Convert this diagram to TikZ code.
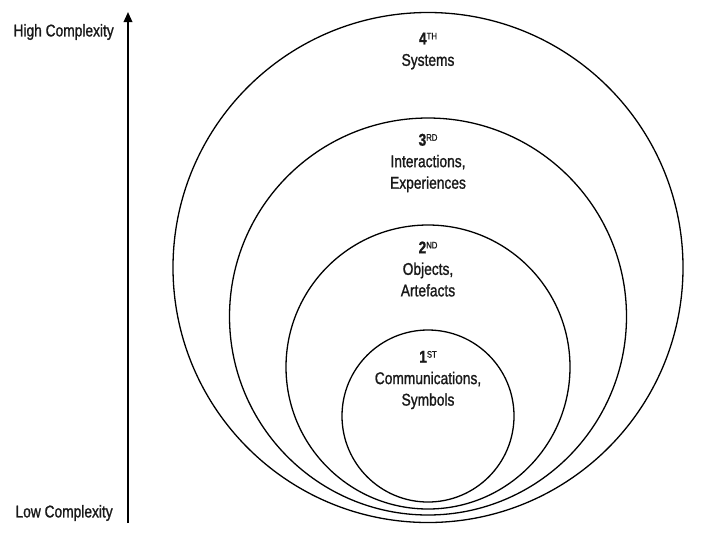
\documentclass[tikz,border=0pt]{standalone}
\usepackage{fontspec}
\setmainfont{Liberation Sans}[FakeStretch=0.81,FakeBold=1.2]
\usetikzlibrary{arrows.meta}
\tikzset{
    ring/.style = {circle, line width=1.3pt, draw=black, inner sep=0pt},
    ringtext/.style = {align=center, font=\fontsize{17}{21.5}\selectfont, text=black!90},
    sidetext/.style = {anchor=west, font=\fontsize{17}{18}\selectfont, text=black!90},
    axis/.style = {line width=1.8pt, -{Triangle[length=10pt,width=8.5pt]}}
}
\newcommand{\ordinal}[2]{\textbf{#1}\raisebox{0.55ex}{\fontsize{9.5}{9.5}\selectfont #2}}

\begin{document}
\begin{tikzpicture}[x=1pt,y=-1pt]
\useasboundingbox (0,0) rectangle (701,542);
\node[ring, minimum size=510pt] at (428.0, 267.5) (fourth) {};
\node[ring, minimum size=397pt] at (428.0, 316.5) (third) {};
\node[ring, minimum size=284pt] at (428.0, 367.0) (second) {};
\node[ring, minimum size=172pt] at (428.0, 416.0) (first) {};
\node[ringtext] at (428, 51) (fourthtext) {\ordinal{4}{TH}\\Systems};
\node[ringtext] at (428, 163) (thirdtext) {\ordinal{3}{RD}\\Interactions,\\Experiences};
\node[ringtext] at (428, 269) (secondtext) {\ordinal{2}{ND}\\Objects,\\Artefacts};
\node[ringtext] at (428, 380) (firsttext) {\ordinal{1}{ST}\\Communications,\\Symbols};
\coordinate (low) at (128, 523);
\coordinate (high) at (128, 12);
\draw[axis] (low) -- (high);
\node[sidetext] at (10, 32) (hightext) {High Complexity};
\node[sidetext] at (12, 513) (lowtext) {Low Complexity};
\end{tikzpicture}
\end{document}
